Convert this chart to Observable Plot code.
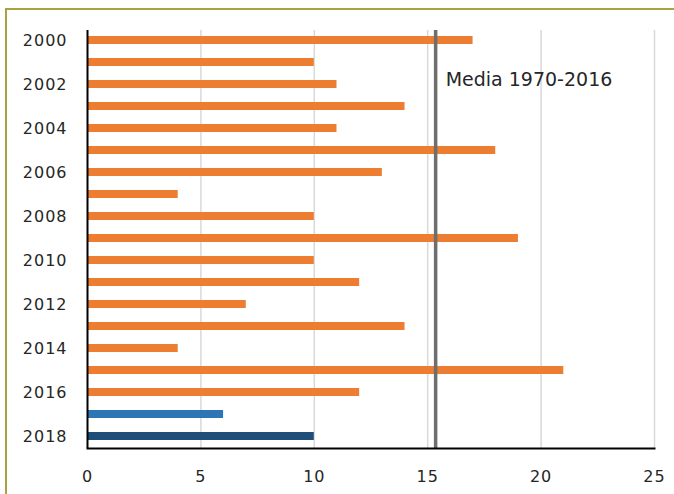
<!DOCTYPE html>
<html>
<head>
<meta charset="utf-8">
<script src="https://cdn.jsdelivr.net/npm/d3@7"></script>
<script src="https://cdn.jsdelivr.net/npm/@observablehq/plot@0.6"></script>
<style>
  html, body { margin: 0; padding: 0; background: #fff; overflow: hidden; }
  #wrap { position: relative; width: 674px; height: 494px; }
  #border { position: absolute; left: 5px; top: 8px; width: 700px; height: 520px; border: 2px solid #aaa23e; box-sizing: border-box; }
  #chart { position: absolute; left: 0; top: 0; }
  #chart svg g[aria-label="y-axis tick label"] text,
  #chart svg g[aria-label="x-axis tick label"] text { letter-spacing: 1px; }
</style>
</head>
<body>
<div id="wrap"><div id="border"></div><div id="chart"></div></div>
<script>
const years = [2000,2001,2002,2003,2004,2005,2006,2007,2008,2009,2010,2011,2012,2013,2014,2015,2016,2017,2018];
const values = [17,10,11,14,11,18,13,4,10,19,10,12,7,14,4,21,12,6,10];
const colors = ["#ED7D31","#ED7D31","#ED7D31","#ED7D31","#ED7D31","#ED7D31","#ED7D31","#ED7D31","#ED7D31","#ED7D31","#ED7D31","#ED7D31","#ED7D31","#ED7D31","#ED7D31","#ED7D31","#ED7D31","#2E75B6","#1F4E79"];
const yearLabels = [2000,2002,2004,2006,2008,2010,2012,2014,2016,2018];
const xTicks = [0,5,10,15,20,25];
const gridTicks = [5,10,15,20,25];
const mean = 15.35;
const meanLabel = "Media 1970-2016";

const data = years.map((y, i) => ({year: String(y), value: values[i], color: colors[i]}));

const chart = Plot.plot({
  width: 674,
  height: 494,
  marginLeft: 87,
  marginRight: 20,
  marginTop: 30,
  marginBottom: 46,
  style: {fontFamily: "'DejaVu Sans', sans-serif", fontSize: "16px", color: "#262626", background: "transparent"},
  x: {domain: [0, 25], ticks: xTicks, label: null},
  y: {type: "band", domain: years.map(String), range: [35, 441], paddingInner: 0.64, paddingOuter: 0, label: null},
  marks: [
    Plot.ruleX(gridTicks, {stroke: "#d9d9d9", strokeWidth: 1.5}),
    Plot.barX(data, {x: "value", y: "year", fill: "color"}),
    Plot.ruleX([mean], {stroke: "#6e6e6e", strokeWidth: 3.5}),
    Plot.ruleX([0], {stroke: "#000", strokeWidth: 2}),
    Plot.frame({anchor: "bottom", stroke: "#000", strokeWidth: 2}),
    Plot.text([meanLabel], {x: mean, frameAnchor: "top", dy: 42, dx: 10, textAnchor: "start", fontSize: 19, fill: "#262626"}),
    Plot.axisY({ticks: yearLabels.map(String), tickSize: 0, tickPadding: 20, fontSize: 16, fill: "#262626"}),
    Plot.axisX({ticks: xTicks, tickSize: 0, tickPadding: 22, fontSize: 16, fill: "#262626"})
  ]
});
document.getElementById("chart").appendChild(chart);
</script>
</body>
</html>
